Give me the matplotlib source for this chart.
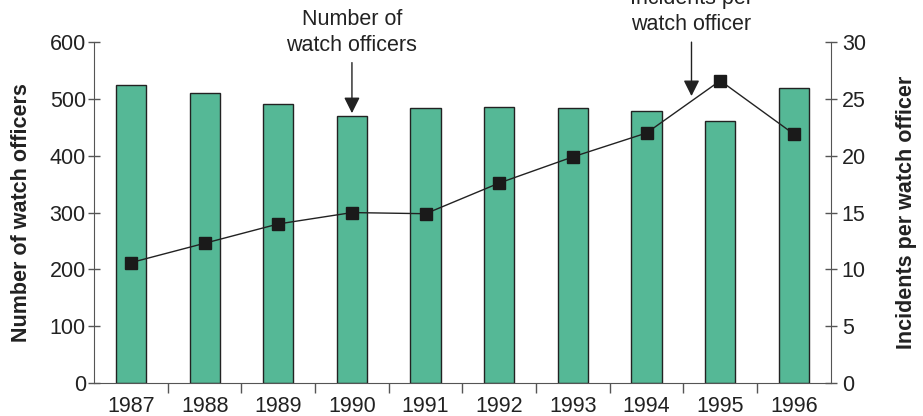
import matplotlib.pyplot as plt
import numpy as np

plt.rcParams.update({"font.family": ["Liberation Sans", "DejaVu Sans"]})

years = ["1987", "1988", "1989", "1990", "1991", "1992", "1993", "1994", "1995", "1996"]
officers = [524, 510, 491, 470, 484, 486, 484, 479, 461, 519]
incidents_per_officer = [10.6, 12.3, 14.0, 15.0, 14.9, 17.6, 19.9, 22.0, 26.6, 21.9]

BAR = "#55b896"
AXIS = "#555555"
TEXT = "#222222"

fig = plt.figure(figsize=(9.23, 4.16), dpi=100)
ax = fig.add_axes([0.102, 0.079, 0.798, 0.820])
x = np.arange(len(years))

ax.bar(x, officers, width=0.41, color=BAR, edgecolor=TEXT, linewidth=1.0, zorder=2)
ax.set_xlim(-0.5, len(years) - 0.5)
ax.set_ylim(0, 600)
ax.set_yticks(range(0, 601, 100))
ax.set_xticks(x)
ax.set_xticklabels(years)
ax.set_xticks(x[:-1] + 0.5, minor=True)
ax.tick_params(axis="x", which="major", length=0, pad=9, labelsize=15.5, colors=TEXT)
ax.tick_params(axis="x", which="minor", length=7, direction="out", color=AXIS, width=1)
ax.tick_params(axis="y", length=8, direction="inout", color=AXIS, width=1,
               labelsize=15.5, labelcolor=TEXT, pad=2)
ax.spines["top"].set_visible(False)
ax.spines["right"].set_visible(False)
for s in ("left", "bottom"):
    ax.spines[s].set_color(AXIS)
ax.set_ylabel("Number of watch officers", fontsize=15.5, fontweight="bold",
              color=TEXT, labelpad=13)

ax2 = ax.twinx()
ax2.plot(x, incidents_per_officer, color=TEXT, lw=1.0, marker="s", ms=8,
         markerfacecolor="#1a1a1a", markeredgecolor="#1a1a1a", zorder=3)
ax2.set_ylim(0, 30)
ax2.set_yticks(range(0, 31, 5))
ax2.tick_params(axis="y", length=8, direction="inout", color=AXIS, width=1,
                labelsize=15.5, labelcolor=TEXT, pad=4)
for s in ("top", "left", "bottom"):
    ax2.spines[s].set_visible(False)
ax2.spines["right"].set_color(AXIS)
ax2.set_ylabel("Incidents per watch officer", fontsize=15.5, fontweight="bold",
               color=TEXT, labelpad=22)

arrow = dict(arrowstyle="-|>", color=TEXT, lw=1.0, mutation_scale=24, shrinkA=3, shrinkB=2)
ax.annotate("Number of\nwatch officers", xy=(3, officers[3]), xytext=(3, 576),
            ha="center", va="bottom", fontsize=15.5, color=TEXT,
            linespacing=1.3, arrowprops=arrow, annotation_clip=False)
ax2.annotate("Incidents per\nwatch officer", xy=(7.61, 25.0), xytext=(7.61, 30.6),
             ha="center", va="bottom", fontsize=15.5, color=TEXT,
             linespacing=1.3, arrowprops=arrow, annotation_clip=False)

fig.savefig("out.png", dpi=100)
